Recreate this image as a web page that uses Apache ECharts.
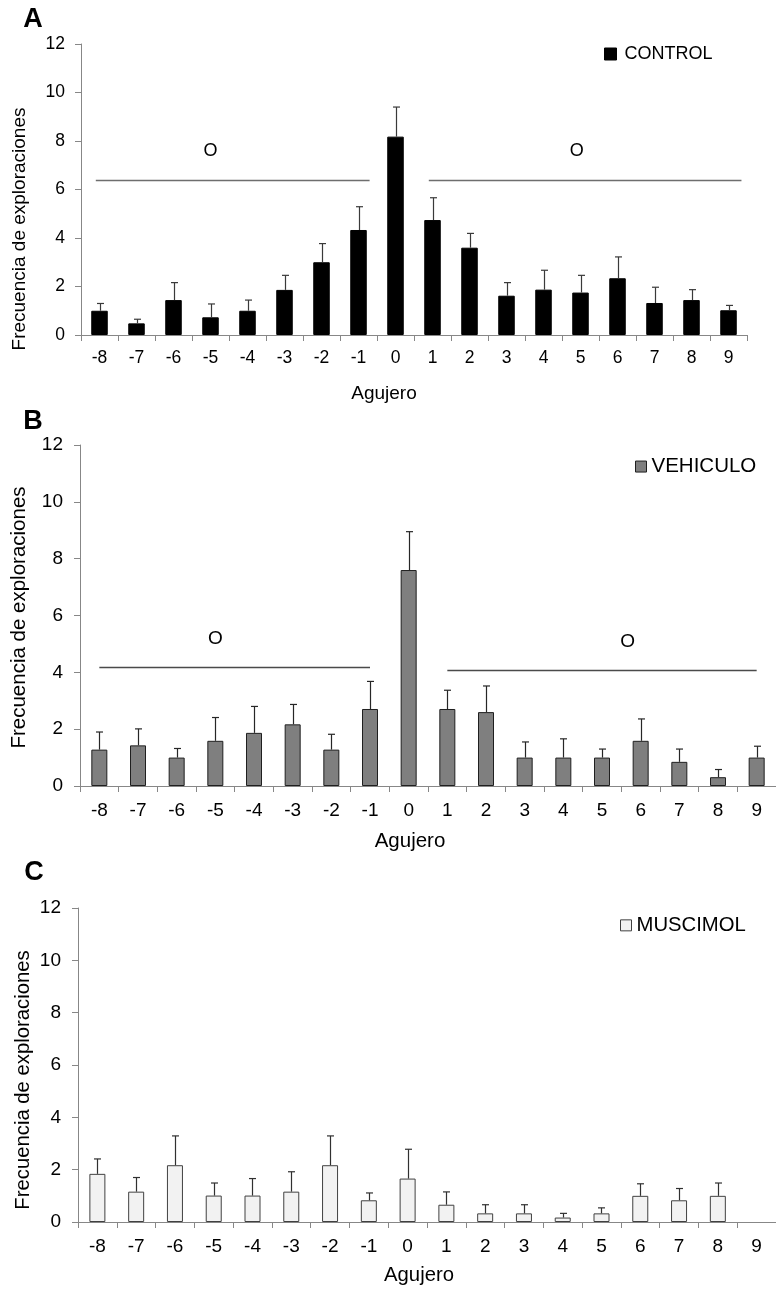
<!DOCTYPE html>
<html>
<head>
<meta charset="utf-8">
<script src="https://cdn.jsdelivr.net/npm/echarts@6/dist/echarts.min.js"></script>
<style>
  html, body { margin: 0; padding: 0; background: #ffffff; }
  #chart { width: 776px; height: 1289px; }
</style>
</head>
<body>
<div id="chart"></div>
<script>
// Holes of the maze (0 = target hole)
const holes = ['-8','-7','-6','-5','-4','-3','-2','-1','0','1','2','3','4','5','6','7','8','9'];

// Mean exploration frequency per hole and its standard error
const controlMean  = [1.00, 0.48, 1.44, 0.73, 1.00, 1.86, 3.00, 4.33, 8.18, 4.74, 3.60, 1.62, 1.87, 1.75, 2.34, 1.32, 1.44, 1.02];
const controlSem   = [0.30, 0.17, 0.72, 0.55, 0.44, 0.60, 0.77, 0.96, 1.22, 0.92, 0.59, 0.54, 0.80, 0.71, 0.88, 0.65, 0.43, 0.20];
const vehiculoMean = [1.28, 1.43, 1.00, 1.59, 1.87, 2.17, 1.28, 2.71, 7.60, 2.71, 2.60, 1.00, 1.00, 1.00, 1.59, 0.85, 0.31, 1.00];
const vehiculoSem  = [0.62, 0.58, 0.32, 0.82, 0.93, 0.70, 0.54, 0.97, 1.35, 0.66, 0.92, 0.55, 0.66, 0.30, 0.77, 0.45, 0.27, 0.40];
const muscimolMean = [1.84, 1.16, 2.17, 1.01, 1.01, 1.16, 2.17, 0.83, 1.66, 0.66, 0.33, 0.33, 0.17, 0.33, 1.00, 0.83, 1.00, 0.00];
const muscimolSem  = [0.57, 0.54, 1.12, 0.48, 0.65, 0.76, 1.12, 0.28, 1.12, 0.49, 0.33, 0.33, 0.16, 0.21, 0.46, 0.45, 0.49, 0.00];

// Significance brackets: [from hole, to hole, level, hole under the mark]
const controlSig  = [[-8.1, -0.7, 6.4, -5.0], [0.9, 9.35, 6.4, 4.9]];
const vehiculoSig = [[-8.0, -1.0, 4.18, -5.0], [1.0, 9.0, 4.09, 5.66]];
const muscimolSig = [];
const sigMark = 'O';

// Value axis
const yMax = 12;
const yStep = 2;

const FONT = "'Liberation Sans', Arial, sans-serif";
const AXIS_GREY = '#878787';
const TEXT = '#000000';

const panels = [
  {
    letter: 'A', name: 'CONTROL', mean: controlMean, sem: controlSem, sig: controlSig,
    grid: { left: 81, top: 44, width: 666, height: 291 },
    tickFont: 17.5, yMargin: 16, xMargin: 14, barWidth: 16.5,
    fill: '#000000', border: '#000000', errColor: '#3a3a3a', sigColor: '#6e6e6e', markFont: 18,
    letterPos: [33, 20], yTitle: { x: 19.5, y: 229, size: 19 }, xTitle: { x: 384, y: 394, size: 19 },
    legend: { left: 604, cy: 54, icon: 12, size: 18, gap: 3 }
  },
  {
    letter: 'B', name: 'VEHICULO', mean: vehiculoMean, sem: vehiculoSem, sig: vehiculoSig,
    grid: { left: 80, top: 445, width: 698, height: 341 },
    tickFont: 19, yMargin: 17, xMargin: 15, barWidth: 16,
    fill: '#7f7f7f', border: '#1f1f1f', errColor: '#262626', sigColor: '#4a4a4a', markFont: 19,
    letterPos: [33, 422], yTitle: { x: 19.5, y: 617.5, size: 20.5 }, xTitle: { x: 410, y: 841, size: 20.5 },
    legend: { left: 635, cy: 466.3, icon: 11, size: 20.5, gap: 0 }
  },
  {
    letter: 'C', name: 'MUSCIMOL', mean: muscimolMean, sem: muscimolSem, sig: muscimolSig,
    grid: { left: 78, top: 908, width: 707, height: 314 },
    tickFont: 19, yMargin: 17, xMargin: 15.5, barWidth: 16,
    fill: '#f2f2f2', border: '#404040', errColor: '#303030', sigColor: '#4a4a4a', markFont: 19,
    letterPos: [34, 872.5], yTitle: { x: 23, y: 1080, size: 20.3 }, xTitle: { x: 419, y: 1275, size: 20.3 },
    legend: { left: 620, cy: 925.5, icon: 11, size: 20.3, gap: 0 }
  }
];

// Upward-only error bar with a short cap
function errorBarRenderer(color) {
  return function (params, api) {
    const i = api.value(0), m = api.value(1), e = api.value(2);
    if (!(e > 0)) return null;
    const base = api.coord([i, m]);
    const top = api.coord([i, m + e]);
    const x = Math.round(base[0]) + 0.5;
    const style = { stroke: color, lineWidth: 1.2 };
    return {
      type: 'group',
      children: [
        { type: 'line', shape: { x1: x, y1: base[1], x2: x, y2: top[1] }, style: style },
        { type: 'line', shape: { x1: x - 3.5, y1: top[1], x2: x + 3.5, y2: top[1] }, style: style }
      ]
    };
  };
}

// Significance bracket: horizontal line with the mark above it
function sigRenderer(p) {
  const first = Number(holes[0]);
  return function (params, api) {
    const level = api.value(1);
    const from = api.value(2) - first, to = api.value(3) - first, mark = api.value(4) - first;
    const band = api.size([1, 0])[0];
    const origin = api.coord([0, level]);
    const y = Math.round(origin[1]) + 0.5;
    return {
      type: 'group',
      children: [
        { type: 'line', shape: { x1: origin[0] + from * band, y1: y, x2: origin[0] + to * band, y2: y },
          style: { stroke: p.sigColor, lineWidth: 1.5 } },
        { type: 'text', x: origin[0] + mark * band, y: y - 29,
          style: { text: sigMark, font: p.markFont + 'px ' + FONT, fill: TEXT, align: 'center', verticalAlign: 'middle' } }
      ]
    };
  };
}

const option = {
  animation: false,
  backgroundColor: '#ffffff',
  grid: [], xAxis: [], yAxis: [], series: [], legend: [], graphic: []
};

panels.forEach(function (p, k) {
  option.grid.push(Object.assign({ containLabel: false }, p.grid));
  option.xAxis.push({
    type: 'category', gridIndex: k, data: holes,
    axisLine: { lineStyle: { color: AXIS_GREY, width: 1 } },
    axisTick: { show: true, length: 6, lineStyle: { color: AXIS_GREY } },
    axisLabel: { color: TEXT, fontFamily: FONT, fontSize: p.tickFont, margin: p.xMargin, interval: 0 },
    splitLine: { show: false }
  });
  option.yAxis.push({
    type: 'value', gridIndex: k, min: 0, max: yMax, interval: yStep,
    axisLine: { show: true, lineStyle: { color: AXIS_GREY, width: 1 } },
    axisTick: { show: true, length: 6, lineStyle: { color: AXIS_GREY } },
    axisLabel: { color: TEXT, fontFamily: FONT, fontSize: p.tickFont, margin: p.yMargin },
    splitLine: { show: false }
  });
  option.series.push({
    type: 'bar', name: p.name, xAxisIndex: k, yAxisIndex: k,
    // an empty hole draws no outline on the axis
    data: p.mean.map(function (v) { return v > 0 ? v : { value: v, itemStyle: { borderWidth: 0, opacity: 0 } }; }),
    barWidth: p.barWidth,
    itemStyle: { color: p.fill, borderColor: p.border, borderWidth: 1 },
    z: 2
  });
  option.series.push({
    type: 'custom', name: p.name + ' error', xAxisIndex: k, yAxisIndex: k,
    data: p.mean.map(function (m, i) { return [i, m, p.sem[i]]; }),
    encode: { x: 0, y: 1 },
    renderItem: errorBarRenderer(p.errColor),
    z: 3, silent: true
  });
  if (p.sig.length) {
    option.series.push({
      type: 'custom', name: p.name + ' sig', xAxisIndex: k, yAxisIndex: k,
      data: p.sig.map(function (s) { return [0, s[2], s[0], s[1], s[3]]; }),
      encode: { x: 0, y: 1 },
      renderItem: sigRenderer(p),
      z: 4, silent: true
    });
  }
  option.legend.push({
    data: [p.name], left: p.legend.left, top: p.legend.cy - p.legend.size / 2,
    padding: 0, itemWidth: p.legend.icon, itemHeight: p.legend.icon, icon: 'rect',
    selectedMode: false,
    itemStyle: { color: p.fill, borderColor: p.border, borderWidth: 1 },
    textStyle: { color: TEXT, fontFamily: FONT, fontSize: p.legend.size, padding: [0, 0, 0, p.legend.gap] }
  });
  option.graphic.push({
    type: 'text', x: p.letterPos[0], y: p.letterPos[1],
    style: { text: p.letter, font: 'bold 27px ' + FONT, fill: '#000', align: 'center', verticalAlign: 'middle' }
  });
  option.graphic.push({
    type: 'text', x: p.yTitle.x, y: p.yTitle.y, rotation: Math.PI / 2,
    style: { text: 'Frecuencia de exploraciones', font: p.yTitle.size + 'px ' + FONT, fill: TEXT, align: 'center', verticalAlign: 'middle' }
  });
  option.graphic.push({
    type: 'text', x: p.xTitle.x, y: p.xTitle.y,
    style: { text: 'Agujero', font: p.xTitle.size + 'px ' + FONT, fill: TEXT, align: 'center', verticalAlign: 'middle' }
  });
});

const chart = echarts.init(document.getElementById('chart'), null, { renderer: 'canvas' });
chart.setOption(option);
</script>
</body>
</html>
